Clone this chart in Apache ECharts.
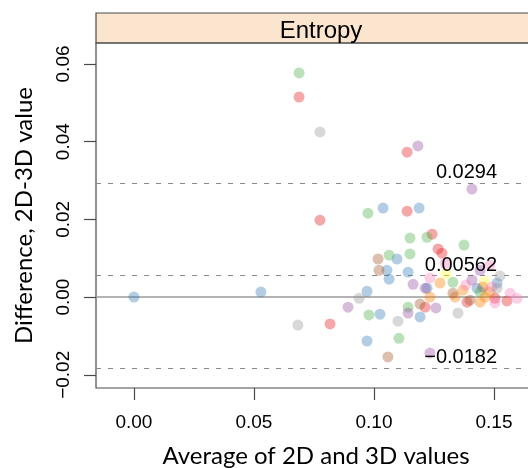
<!DOCTYPE html>
<html>
<head>
<meta charset="utf-8">
<script src="https://cdn.jsdelivr.net/npm/echarts@6/dist/echarts.min.js"></script>
<style>html,body{margin:0;padding:0;background:#fff}#c{width:528px;height:468px}</style>
</head>
<body>
<div id="c"></div>
<script>
// ---- data ----
const panelTitle = 'Entropy';
const xTicks = [0, 0.05, 0.10, 0.15];
const yTicks = [-0.02, 0, 0.02, 0.04, 0.06];
const limitValues = [0.0294, 0.00562, -0.0182];
const limitLabels = ['0.0294', '0.00562', '\u22120.0182'];

const redPts = [[0.0688,0.0515],[0.0775,0.0198],[0.0817,-0.0069],[0.1138,0.0373],[0.1138,0.0221],
  [0.1242,0.0162],[0.1267,0.0124],[0.1283,0.0113],[0.1213,-0.0026],[0.1388,-0.0013],
  [0.1504,-0.0003],[0.1554,-0.0010],[0.1454,0.0026]];
const greenPts = [[0.0688,0.0577],[0.0975,0.0216],[0.1221,0.0154],[0.1150,0.0152],[0.1375,0.0134],
  [0.1063,0.0108],[0.1150,0.0111],[0.0979,-0.0046],[0.1142,-0.0026],[0.1104,-0.0106],
  [0.1329,0.0038],[0.1442,0.0013]];
const bluePts = [[0.0000,0.0000],[0.0529,0.0013],[0.1038,0.0229],[0.1188,0.0229],[0.1096,0.0098],
  [0.1054,0.0069],[0.1063,0.0046],[0.1142,0.0064],[0.0971,0.0015],[0.1025,-0.0044],
  [0.1192,-0.0051],[0.0971,-0.0113],[0.1221,0.0023],[0.1429,0.0023],[0.1513,0.0036]];
const purplePts = [[0.1183,0.0389],[0.1408,0.0278],[0.1163,0.0033],[0.1213,0.0023],[0.0892,-0.0026],
  [0.1142,-0.0041],[0.1258,-0.0028],[0.1233,-0.0144],[0.1442,0.0069],[0.1408,0.0044]];
const grayPts = [[0.0775,0.0425],[0.0683,-0.0072],[0.0938,-0.0003],[0.1100,-0.0062],[0.1350,-0.0041],
  [0.1513,0.0023],[0.1525,0.0054]];
const brownPts = [[0.1017,0.0098],[0.1021,0.0069],[0.1058,-0.0154],[0.1192,-0.0018],[0.1329,0.0010],
  [0.1400,-0.0008]];
const orangePts = [[0.1233,0.0000],[0.1275,0.0036],[0.1338,0.0000],[0.1463,0.0000],[0.1442,-0.0013],
  [0.1483,0.0013],[0.1371,0.0018]];
const pinkPts = [[0.1233,0.0049],[0.1296,0.0087],[0.1567,0.0010],[0.1483,0.0082],[0.1596,-0.0003],
  [0.1383,0.0031],[0.1492,0.0026],[0.1504,-0.0015]];
const yellowPts = [[0.1300,0.0060],[0.1460,0.0040]];

const groups = [
  ['red', '#E41A1C', redPts], ['blue', '#377EB8', bluePts], ['green', '#4DAF4A', greenPts],
  ['purple', '#984EA3', purplePts], ['orange', '#FF7F00', orangePts], ['yellow', '#FFFF33', yellowPts],
  ['brown', '#A65628', brownPts], ['pink', '#F781BF', pinkPts], ['gray', '#999999', grayPts]
];

const chart = echarts.init(document.getElementById('c'), null, {renderer: 'canvas'});
const tickFont = {fontFamily: 'Liberation Sans, Arial, sans-serif', fontSize: 19, color: '#000'};
const nameFont = {fontFamily: 'Lato, Calibri, sans-serif', fontSize: 24, color: '#000'};

const series = groups.map(g => ({
  name: g[0], type: 'scatter', data: g[2], symbolSize: 11,
  itemStyle: {color: g[1], opacity: 0.38}, silent: true, z: 3
}));

// reference lines attached to the first real series
series[0].markLine = {
  silent: true, symbol: 'none', animation: false, z: 1, precision: 6,
  label: {show: false},
  data: [
    {yAxis: 0, lineStyle: {type: 'solid', color: '#9a9a9a', width: 1.6}},
    ...limitValues.map(v => ({yAxis: v, lineStyle: {type: [5, 7], color: '#8a8a8a', width: 1.2}}))
  ]
};
series[0].markPoint = {
  silent: true, animation: false, symbol: 'circle', symbolSize: 0, precision: 6,
  itemStyle: {color: 'rgba(0,0,0,0)', opacity: 1},
  label: {show: true, position: 'left', distance: 0, offset: [0, -10],
    fontFamily: 'Liberation Sans, Arial, sans-serif', fontSize: 20, color: '#000'},
  data: limitValues.map((v, i) => ({coord: [0.1513, v], value: limitLabels[i],
    label: {formatter: limitLabels[i]}}))
};

chart.setOption({
  animation: false,
  title: {text: panelTitle, left: 316, top: 14, textAlign: 'center',
    textStyle: {fontFamily: 'Liberation Sans, Arial, sans-serif', fontSize: 24, fontWeight: 'normal', color: '#000'}},
  graphic: [{type: 'rect', z: -1, shape: {x: 96, y: 13, width: 440, height: 30},
    style: {fill: '#FBE5CE', stroke: '#4a4a4a', lineWidth: 1.2}}],
  grid: {left: 96, top: 43, width: 440, height: 345, show: true, borderColor: '#4a4a4a', borderWidth: 1.2,
    backgroundColor: 'transparent', containLabel: false, outerBoundsMode: 'none'},
  xAxis: {
    type: 'value', min: -0.0158, max: 0.1675,
    name: 'Average of 2D and 3D values', nameLocation: 'middle', nameGap: 56, nameTextStyle: nameFont,
    axisLine: {show: false, onZero: false}, splitLine: {show: false},
    axisTick: {show: true, inside: false, length: 12, customValues: xTicks, lineStyle: {color: '#4a4a4a', width: 1.2}},
    axisLabel: {customValues: xTicks, margin: 25, ...tickFont, formatter: v => v.toFixed(2)}
  },
  yAxis: {
    type: 'value', min: -0.0234, max: 0.0654,
    name: 'Difference, 2D-3D value', nameLocation: 'middle', nameGap: 60, nameTextStyle: nameFont,
    axisLine: {show: false, onZero: false}, splitLine: {show: false},
    axisTick: {show: true, inside: false, length: 12, customValues: yTicks, lineStyle: {color: '#4a4a4a', width: 1.2}},
    axisLabel: {customValues: yTicks, rotate: 90, margin: 23, ...tickFont,
      formatter: v => (v < 0 ? '\u2212' + Math.abs(v).toFixed(2) : v.toFixed(2))}
  },
  series: series
});
</script>
</body>
</html>
